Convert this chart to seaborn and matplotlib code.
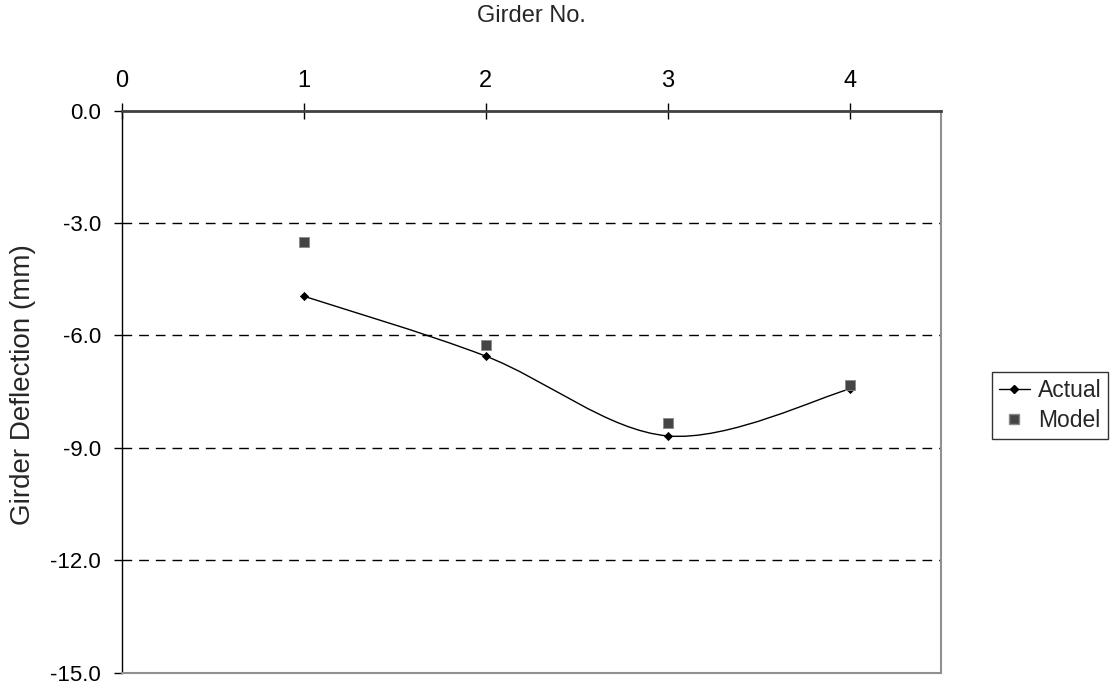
import numpy as np
import pandas as pd
import matplotlib
matplotlib.use("Agg")
import matplotlib.pyplot as plt
from matplotlib.path import Path
from matplotlib.patches import PathPatch
from matplotlib.lines import Line2D
import seaborn as sns

girders = [1, 2, 3, 4]
actual = [-4.95, -6.55, -8.68, -7.43]
model = [-3.5, -6.26, -8.33, -7.33]
x_ticks = [0, 1, 2, 3, 4]
y_ticks = [0.0, -3.0, -6.0, -9.0, -12.0, -15.0]

sns.set_theme(style="white")
plt.rcParams['font.family'] = ['Liberation Sans', 'DejaVu Sans']
plt.rcParams['axes.unicode_minus'] = False

fig = plt.figure(figsize=(11.11, 6.84), dpi=100)
ax = fig.add_axes([0.1095, 0.0165, 0.8467 - 0.1095, 0.8382 - 0.0165])

df = pd.DataFrame({"Girder": girders, "Actual": actual, "Model": model})

# smoothed line for Actual (Catmull-Rom as cubic Bezier path)
pts = np.column_stack([df["Girder"].to_numpy(float), df["Actual"].to_numpy(float)])
ext = np.vstack([pts[0], pts, pts[-1]])
verts = [tuple(pts[0])]
codes = [Path.MOVETO]
for i in range(1, len(ext) - 2):
    p0, p1, p2, p3 = ext[i - 1], ext[i], ext[i + 1], ext[i + 2]
    c1 = p1 + (p2 - p0) / 6.0
    c2 = p2 - (p3 - p1) / 6.0
    verts += [tuple(c1), tuple(c2), tuple(p2)]
    codes += [Path.CURVE4] * 3
ax.add_patch(PathPatch(Path(verts, codes), facecolor="none", edgecolor="black", lw=1.0, zorder=3))

sns.scatterplot(data=df, x="Girder", y="Actual", marker="D", s=22, color="black",
                edgecolor="black", linewidth=0, ax=ax, zorder=4, legend=False)
sns.scatterplot(data=df, x="Girder", y="Model", marker="s", s=45, color="#454545",
                edgecolor="#8a8a8a", linewidth=0.6, ax=ax, zorder=5, legend=False)

ax.set_xlim(0, 4.5)
ax.set_ylim(-15, 0)
ax.xaxis.set_ticks_position("top")
ax.xaxis.set_label_position("top")
ax.set_xticks(x_ticks)
ax.set_xticklabels([str(v) for v in x_ticks])
ax.set_yticks(y_ticks)
ax.set_yticklabels([f"{v:.1f}" for v in y_ticks])
ax.tick_params(axis="x", direction="inout", length=11.5, width=1, colors="black",
               labelsize=17, pad=8, top=True, bottom=False)
ax.tick_params(axis="y", direction="out", length=6, width=1, colors="black",
               labelsize=16, pad=9, left=True)
for y in y_ticks[1:-1]:
    ax.axhline(y, color="black", lw=1, ls=(0, (7, 5)), zorder=1)

ax.set_xlabel("Girder No.", fontsize=17)
ax.xaxis.set_label_coords(0.5, 1 + (110.7 - 16) / 562)
ax.xaxis.label.set_va("center")
ax.set_ylabel("Girder Deflection (mm)", fontsize=20)
ax.yaxis.set_label_coords((23 - 121.7) / 819, 0.513)
ax.yaxis.label.set_va("center")

ax.spines["top"].set_color("#404040")
ax.spines["top"].set_linewidth(2)
ax.spines["left"].set_color("black")
ax.spines["left"].set_linewidth(1)
ax.spines["right"].set_color("#909090")
ax.spines["right"].set_linewidth(1.5)
ax.spines["bottom"].set_color("#909090")
ax.spines["bottom"].set_linewidth(1.5)

handles = [
    Line2D([0], [0], color="black", lw=1, marker="D", markersize=4.5),
    Line2D([0], [0], color="none", marker="s", markersize=7,
           markerfacecolor="#454545", markeredgecolor="#8a8a8a"),
]
leg = fig.legend(handles, ["Actual", "Model"], loc="upper left",
                 bbox_to_anchor=(992 / 1111, 1 - 372 / 684), fontsize=16.5,
                 frameon=True, fancybox=False, edgecolor="black",
                 handlelength=1.35, handletextpad=0.35, borderpad=0.3,
                 labelspacing=0.3, borderaxespad=0)
leg.get_frame().set_linewidth(1)

fig.savefig("out.png", dpi=100)
